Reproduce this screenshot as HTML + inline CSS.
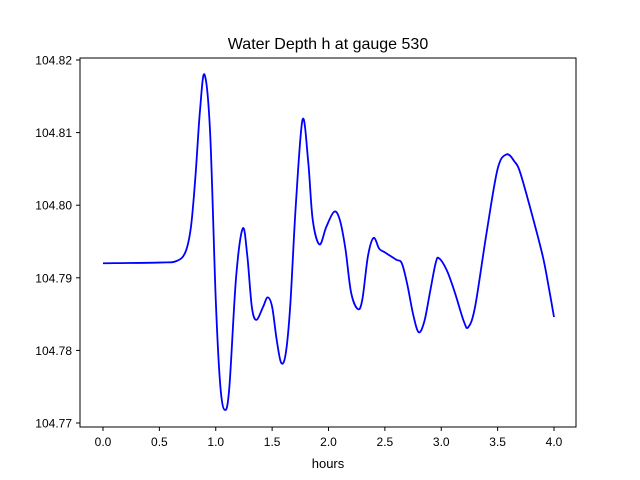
<!DOCTYPE html>
<html><head><meta charset="utf-8"><style>body{margin:0;background:#fff}svg{display:block;font-family:"Liberation Sans","DejaVu Sans",sans-serif}</style></head>
<body>
<svg id="chart" width="640" height="480">
<rect width="640" height="480" fill="#fff"/>
<text x="328" y="49" text-anchor="middle" font-size="16">Water Depth h at gauge 530</text>
<g id="xt"></g><g id="yt"></g>
<path id="line" fill="none" stroke="#0000ff" stroke-width="1.8"/>
<rect x="80" y="58" width="496" height="369" fill="none" stroke="#000" stroke-width="1"/>
<text x="328" y="468" text-anchor="middle" font-size="13">hours</text>
</svg>
<script>
const hours=[0,0.5,0.65,0.73,0.78,0.82,0.86,0.9,0.95,1.0,1.04,1.08,1.12,1.18,1.24,1.28,1.32,1.36,1.42,1.46,1.5,1.54,1.58,1.62,1.66,1.71,1.77,1.82,1.86,1.92,1.98,2.05,2.1,2.15,2.2,2.26,2.3,2.35,2.4,2.45,2.5,2.6,2.65,2.7,2.75,2.8,2.85,2.9,2.95,2.98,3.05,3.12,3.2,3.24,3.3,3.4,3.5,3.58,3.65,3.7,3.8,3.9,3.95,4.0];
const depth=[104.792,104.7921,104.7923,104.7935,104.797,104.804,104.813,104.818,104.810,104.787,104.7752,104.7718,104.7748,104.790,104.7968,104.793,104.786,104.7842,104.786,104.7873,104.786,104.7815,104.7783,104.7795,104.786,104.800,104.8118,104.806,104.798,104.7946,104.797,104.7991,104.798,104.794,104.788,104.7857,104.787,104.793,104.7955,104.794,104.7935,104.7925,104.792,104.789,104.785,104.7825,104.784,104.788,104.792,104.7927,104.791,104.788,104.784,104.7832,104.786,104.796,104.805,104.807,104.806,104.8045,104.799,104.793,104.789,104.7846];
const xTicks=[0,0.5,1,1.5,2,2.5,3,3.5,4];
const xTickLabels=["0.0","0.5","1.0","1.5","2.0","2.5","3.0","3.5","4.0"];
const yTicks=[104.77,104.78,104.79,104.80,104.81,104.82];
const yTickLabels=["104.77","104.78","104.79","104.80","104.81","104.82"];
const ns="http://www.w3.org/2000/svg";
const X=v=>103+v*112.75;
const Y=v=>423-(v-104.77)/0.05*363;
function mk(t,a,p){const e=document.createElementNS(ns,t);for(const k in a)e.setAttribute(k,a[k]);p.appendChild(e);return e;}
const xt=document.getElementById('xt'),yt=document.getElementById('yt');
xTicks.forEach((v,i)=>{
 const l=mk('line',{x1:X(v),x2:X(v),y1:427,y2:431,stroke:'#000'},xt);
 
 
 const t=mk('text',{x:X(v),y:446,'text-anchor':'middle','font-size':12},xt);
 
 
 t.textContent=xTickLabels[i];
});
yTicks.forEach((v,i)=>{
 const l=mk('line',{x1:76,x2:80,y1:Y(v),y2:Y(v),stroke:'#000'},yt);
 
 
 const t=mk('text',{x:72,y:Y(v)+4.5,'text-anchor':'end','font-size':12},yt);
 
 
 t.textContent=yTickLabels[i];
});
const P=hours.map((h,i)=>[X(h),Y(depth[i])]);
let d='M'+P[0][0]+','+P[0][1];
for(let i=0;i<P.length-1;i++){
 const p0=P[Math.max(0,i-1)],p1=P[i],p2=P[i+1],p3=P[Math.min(P.length-1,i+2)];
 const c1=[p1[0]+(p2[0]-p0[0])/6,p1[1]+(p2[1]-p0[1])/6];
 const c2=[p2[0]-(p3[0]-p1[0])/6,p2[1]-(p3[1]-p1[1])/6];
 d+=' C'+c1+' '+c2+' '+p2;
}
document.getElementById('line').setAttribute('d',d);
</script>
</body></html>
